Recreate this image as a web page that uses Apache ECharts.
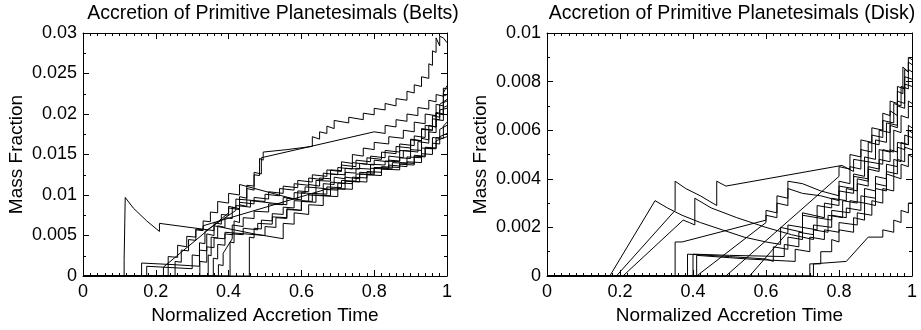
<!DOCTYPE html>
<html>
<head>
<meta charset="utf-8">
<script src="https://cdn.jsdelivr.net/npm/echarts@6/dist/echarts.min.js"></script>
<style>
  html, body { margin: 0; padding: 0; background: #fff; }
  #chart { width: 921px; height: 330px; }
</style>
</head>
<body>
<div id="chart"></div>
<script>
// x ticks / y ticks for both panels
const xTicks = [0, 0.2, 0.4, 0.6, 0.8, 1];
const beltsYTicks = [0, 0.005, 0.01, 0.015, 0.02, 0.025, 0.03];
const diskYTicks = [0, 0.002, 0.004, 0.006, 0.008, 0.01];

// Belts runs: flat lists of (time, mass fraction) pairs
const belts1 = [0,0, 0.113,0, 0.113,0.002, 0.116,0.002, 0.116,0.0097, 0.138,0.0084, 0.175,0.0068, 0.21,0.0055, 0.21,0.0065, 0.36,0.0056, 0.36,0.0062, 0.47,0.0052, 0.55,0.0046, 0.55,0.0065, 0.58,0.0064, 0.58,0.0078, 0.62,0.0076, 0.62,0.0088, 0.66,0.0087, 0.66,0.0099, 0.7,0.0098, 0.7,0.0108, 0.74,0.0107, 0.74,0.0117, 0.78,0.0116, 0.78,0.0125, 0.82,0.0124, 0.82,0.0132, 0.87,0.0131, 0.87,0.0138, 0.91,0.0137, 0.91,0.0148, 0.94,0.0147, 0.94,0.0158, 0.97,0.0157, 0.97,0.0167, 1,0.0172];
const belts2 = [0,0, 0.344,0, 0.344,0.0026, 0.352,0.0025, 0.352,0.0048, 0.37,0.0047, 0.37,0.0062, 0.39,0.006, 0.39,0.0072, 0.41,0.0071, 0.41,0.0085, 0.43,0.0083, 0.43,0.0098, 0.45,0.0096, 0.45,0.0112, 0.47,0.0111, 0.47,0.0125, 0.485,0.0124, 0.485,0.0145, 0.495,0.0143, 0.495,0.0153, 0.56,0.0156, 0.63,0.016, 0.63,0.0172, 0.65,0.0169, 0.65,0.0178, 0.67,0.0176, 0.67,0.0185, 0.69,0.0182, 0.69,0.0192, 0.73,0.0189, 0.73,0.0196, 0.77,0.0193, 0.77,0.0201, 0.8,0.0199, 0.8,0.0207, 0.83,0.0205, 0.83,0.0213, 0.86,0.021, 0.86,0.0219, 0.89,0.0217, 0.89,0.0228, 0.91,0.0226, 0.91,0.0236, 0.93,0.0234, 0.93,0.0246, 0.95,0.0244, 0.95,0.0262, 0.96,0.026, 0.96,0.0278, 0.97,0.0276, 0.97,0.0294, 0.98,0.0284, 0.98,0.0296, 0.99,0.0294, 1,0.0288];
const belts3 = [0,0, 0.404,0, 0.404,0.0042, 0.415,0.0041, 0.415,0.0068, 0.43,0.0066, 0.43,0.0088, 0.45,0.0086, 0.45,0.0108, 0.47,0.0106, 0.47,0.0128, 0.49,0.0126, 0.49,0.0146, 0.8,0.0178, 0.83,0.0176, 0.83,0.0186, 0.86,0.0184, 0.86,0.0193, 0.89,0.0191, 0.89,0.02, 0.92,0.0198, 0.92,0.0208, 0.95,0.0206, 0.95,0.0217, 0.97,0.0215, 0.97,0.0224, 0.99,0.0222, 0.99,0.0232, 1,0.0231];
const belts4 = [0,0, 0.161,0, 0.161,0.0016, 0.25,0.0014, 0.32,0.0012, 0.32,0.0032, 0.34,0.0031, 0.34,0.0052, 0.36,0.005, 0.36,0.0066, 0.38,0.0064, 0.38,0.0076, 0.4,0.0075, 0.4,0.0086, 0.42,0.0084, 0.42,0.0095, 0.5,0.0092, 0.5,0.0101, 0.54,0.0099, 0.54,0.0108, 0.58,0.0106, 0.58,0.0114, 0.62,0.0112, 0.62,0.0121, 0.66,0.0119, 0.66,0.0127, 0.7,0.0125, 0.7,0.0134, 0.74,0.0132, 0.74,0.014, 0.78,0.0138, 0.78,0.0146, 0.82,0.0144, 0.82,0.0153, 0.86,0.0151, 0.86,0.016, 0.9,0.0158, 0.9,0.0169, 0.93,0.0167, 0.93,0.0182, 0.96,0.018, 0.96,0.0198, 0.98,0.0196, 0.98,0.0212, 1,0.0218];
const belts5 = [0,0, 0.175,0, 0.175,0.0012, 0.3,0.0009, 0.3,0.0026, 0.32,0.0025, 0.32,0.0041, 0.335,0.004, 0.335,0.0055, 0.42,0.0081, 0.42,0.0087, 0.46,0.0085, 0.46,0.0093, 0.52,0.009, 0.56,0.0088, 0.56,0.0096, 0.6,0.0094, 0.6,0.0103, 0.64,0.0101, 0.64,0.0109, 0.68,0.0107, 0.68,0.0116, 0.72,0.0114, 0.72,0.0122, 0.76,0.012, 0.76,0.0128, 0.8,0.0127, 0.8,0.0134, 0.85,0.0133, 0.85,0.014, 0.89,0.0139, 0.89,0.0147, 0.93,0.0146, 0.93,0.0158, 0.96,0.0157, 0.96,0.0171, 0.98,0.017, 0.98,0.0181, 1,0.0186];
const belts6 = [0,0, 0.221,0, 0.221,0.0011, 0.4,0.0078, 0.4,0.0084, 0.43,0.0082, 0.43,0.0091, 0.47,0.0089, 0.47,0.0097, 0.51,0.0095, 0.51,0.0104, 0.55,0.0102, 0.55,0.0111, 0.59,0.0109, 0.59,0.0118, 0.63,0.0116, 0.63,0.0125, 0.67,0.0123, 0.67,0.0131, 0.71,0.0129, 0.71,0.0137, 0.75,0.0135, 0.75,0.0143, 0.79,0.0141, 0.79,0.0148, 0.83,0.0146, 0.83,0.0155, 0.87,0.0153, 0.87,0.0163, 0.91,0.0161, 0.91,0.0173, 0.94,0.0171, 0.94,0.0186, 0.97,0.0184, 0.97,0.0201, 0.99,0.0199, 0.99,0.0214, 1,0.0216];
const belts7 = [0,0, 0.234,0, 0.234,0.0024, 0.26,0.0023, 0.26,0.0038, 0.285,0.0036, 0.285,0.0049, 0.31,0.0048, 0.31,0.0057, 0.33,0.0056, 0.33,0.0062, 0.66,0.0106, 0.66,0.0114, 0.69,0.0113, 0.69,0.0122, 0.72,0.012, 0.72,0.0128, 0.75,0.0127, 0.75,0.0133, 0.79,0.0132, 0.79,0.0138, 0.83,0.0137, 0.83,0.0142, 0.87,0.0141, 0.87,0.0146, 0.9,0.0145, 0.9,0.0156, 0.93,0.0155, 0.93,0.017, 0.95,0.0168, 0.95,0.0186, 0.97,0.0184, 0.97,0.0202, 0.99,0.02, 0.99,0.0226, 1,0.0235];
const belts8 = [0,0, 0.253,0, 0.253,0.0018, 0.27,0.0017, 0.27,0.0032, 0.29,0.0031, 0.29,0.0045, 0.31,0.0044, 0.31,0.0058, 0.33,0.0057, 0.33,0.0068, 0.35,0.0067, 0.35,0.0079, 0.37,0.0078, 0.37,0.0092, 0.4,0.009, 0.4,0.0102, 0.43,0.01, 0.43,0.0113, 0.58,0.0095, 0.58,0.0103, 0.61,0.0102, 0.61,0.011, 0.64,0.0109, 0.64,0.0118, 0.68,0.0117, 0.68,0.0126, 0.72,0.0125, 0.72,0.0133, 0.76,0.0132, 0.76,0.0139, 0.8,0.0137, 0.8,0.0143, 0.84,0.0141, 0.84,0.0148, 0.88,0.0146, 0.88,0.0155, 0.92,0.0153, 0.92,0.0166, 0.95,0.0164, 0.95,0.0178, 0.97,0.0177, 0.97,0.0193, 0.99,0.0192, 0.99,0.0208, 1,0.021];
const belts9 = [0,0, 0.321,0, 0.321,0.0018, 0.34,0.0017, 0.34,0.0036, 0.36,0.0035, 0.36,0.0047, 0.39,0.0046, 0.39,0.0054, 0.5,0.005, 0.5,0.0061, 0.53,0.006, 0.53,0.0072, 0.56,0.0071, 0.56,0.0083, 0.6,0.0081, 0.6,0.0093, 0.63,0.0092, 0.63,0.0102, 0.67,0.0101, 0.67,0.011, 0.71,0.0109, 0.71,0.0118, 0.75,0.0117, 0.75,0.0126, 0.79,0.0125, 0.79,0.0133, 0.84,0.0132, 0.84,0.0137, 0.89,0.0135, 0.89,0.0141, 0.93,0.014, 0.93,0.0151, 0.96,0.015, 0.96,0.0164, 0.98,0.0163, 0.98,0.0172, 1,0.0176];
const belts10 = [0,0, 0.358,0, 0.358,0.0022, 0.37,0.0021, 0.37,0.0039, 0.39,0.0038, 0.39,0.0052, 0.41,0.0051, 0.41,0.0063, 0.44,0.0061, 0.44,0.0072, 0.47,0.0071, 0.47,0.008, 0.51,0.0079, 0.51,0.0089, 0.55,0.0088, 0.55,0.0097, 0.59,0.0095, 0.59,0.0105, 0.62,0.0104, 0.62,0.0113, 0.65,0.0111, 0.65,0.0121, 0.68,0.012, 0.68,0.0131, 0.71,0.013, 0.71,0.0141, 0.74,0.0139, 0.74,0.015, 0.77,0.0148, 0.77,0.0158, 0.8,0.0156, 0.8,0.0165, 0.84,0.0163, 0.84,0.0172, 0.88,0.017, 0.88,0.018, 0.91,0.0178, 0.91,0.019, 0.94,0.0188, 0.94,0.02, 0.97,0.0198, 0.97,0.0212, 0.99,0.021, 0.99,0.0222, 1,0.0224];
const belts11 = [0,0, 0.372,0, 0.372,0.0014, 0.385,0.0013, 0.385,0.0028, 0.41,0.0046, 0.41,0.0052, 0.44,0.0051, 0.44,0.0059, 0.48,0.0057, 0.48,0.0065, 0.52,0.0064, 0.52,0.0073, 0.56,0.0072, 0.56,0.0082, 0.6,0.0081, 0.6,0.0092, 0.64,0.0091, 0.64,0.01, 0.68,0.0099, 0.68,0.0108, 0.72,0.0107, 0.72,0.0117, 0.76,0.0116, 0.76,0.0126, 0.8,0.0125, 0.8,0.0134, 0.84,0.0133, 0.84,0.0143, 0.87,0.0142, 0.87,0.0155, 0.9,0.0154, 0.9,0.0168, 0.93,0.0167, 0.93,0.0181, 0.96,0.018, 0.96,0.0194, 0.98,0.0193, 0.98,0.0205, 1,0.0207];
const belts12 = [0,0, 0.457,0, 0.457,0.0048, 0.47,0.0047, 0.47,0.0059, 0.49,0.0058, 0.49,0.0069, 0.52,0.0068, 0.52,0.0077, 0.55,0.0076, 0.55,0.0085, 0.58,0.0084, 0.58,0.0093, 0.62,0.0092, 0.62,0.01, 0.66,0.0099, 0.66,0.0107, 0.7,0.0106, 0.7,0.0115, 0.74,0.0114, 0.74,0.0122, 0.78,0.0121, 0.78,0.0129, 0.82,0.0128, 0.82,0.0135, 0.87,0.0134, 0.87,0.014, 0.91,0.0139, 0.91,0.0149, 0.94,0.0148, 0.94,0.0159, 0.97,0.0158, 0.97,0.0171, 0.99,0.017, 0.99,0.0185, 1,0.019];

// Disk runs
const disk1 = [0,0, 0.172,0, 0.296,0.0031, 0.33,0.0028, 0.37,0.0025, 0.42,0.0022, 0.48,0.0019, 0.54,0.0016, 0.6,0.0014, 0.64,0.0013, 0.64,0.002, 0.7,0.0018, 0.7,0.0026, 0.76,0.0024, 0.76,0.003, 0.8,0.0029, 0.8,0.0035, 0.84,0.0034, 0.84,0.0041, 0.88,0.004, 0.88,0.0047, 0.92,0.0046, 0.92,0.0052, 0.95,0.0051, 0.95,0.006, 0.97,0.0059, 0.97,0.0066, 0.99,0.0065, 0.99,0.0072, 1,0.0071];
const disk2 = [0,0, 0.19,0, 0.351,0.0027, 0.351,0.0039, 0.38,0.0036, 0.42,0.0033, 0.465,0.0029, 0.465,0.0039, 0.49,0.0037, 0.808,0.00455, 0.84,0.0043, 0.84,0.0048, 0.88,0.0047, 0.88,0.0055, 0.91,0.0054, 0.91,0.006, 0.94,0.0059, 0.94,0.0068, 0.96,0.0066, 0.96,0.0076, 0.975,0.0075, 0.975,0.0086, 0.99,0.0084, 0.99,0.0088, 1,0.0087];
const disk3 = [0,0, 0.208,0, 0.373,0.0023, 0.39,0.0022, 0.405,0.0021, 0.405,0.0032, 0.45,0.0028, 0.52,0.0024, 0.6,0.002, 0.67,0.0017, 0.73,0.0015, 0.73,0.0019, 0.77,0.0018, 0.77,0.0025, 0.81,0.0024, 0.81,0.0031, 0.85,0.003, 0.85,0.0038, 0.88,0.0037, 0.88,0.0045, 0.91,0.0044, 0.91,0.0052, 0.94,0.0051, 0.94,0.0062, 0.96,0.0061, 0.96,0.007, 0.98,0.0069, 0.98,0.0079, 1,0.0078];
const disk4 = [0,0, 0.351,0, 0.351,0.0014, 0.37,0.0014, 0.6,0.0023, 0.6,0.0025, 0.63,0.0024, 0.63,0.003, 0.66,0.0029, 0.66,0.0036, 0.7,0.0034, 0.75,0.0033, 0.8,0.0031, 0.8,0.0037, 0.84,0.0036, 0.84,0.0042, 0.87,0.0041, 0.87,0.0049, 0.9,0.0048, 0.9,0.0056, 0.93,0.0055, 0.93,0.0063, 0.96,0.0062, 0.96,0.0072, 0.98,0.0071, 0.98,0.0082, 1,0.0081];
const disk5 = [0,0, 0.385,0, 0.385,0.0009, 0.5,0.0008, 0.6,0.0007, 0.62,0.0006, 0.62,0.0012, 0.66,0.0011, 0.66,0.0016, 0.7,0.0015, 0.7,0.002, 0.74,0.0019, 0.74,0.0024, 0.78,0.0023, 0.78,0.0027, 0.83,0.0026, 0.83,0.0031, 0.87,0.003, 0.87,0.0036, 0.9,0.0035, 0.9,0.0041, 0.93,0.004, 0.93,0.0046, 0.96,0.0045, 0.96,0.0053, 0.98,0.0052, 0.98,0.0058, 1,0.0057];
const disk6 = [0,0, 0.4,0, 0.4,0.0009, 0.5,0.00085, 0.65,0.0008, 0.65,0.0013, 0.69,0.0012, 0.69,0.0018, 0.73,0.0017, 0.73,0.0021, 0.78,0.002, 0.78,0.0025, 0.82,0.0024, 0.82,0.0028, 0.86,0.0027, 0.86,0.0033, 0.9,0.0032, 0.9,0.0038, 0.93,0.0037, 0.93,0.0043, 0.96,0.0042, 0.96,0.0048, 0.98,0.0047, 0.98,0.0053, 1,0.0052];
const disk7 = [0,0, 0.41,0, 0.41,0.00085, 0.55,0.0007, 0.68,0.0006, 0.68,0.0011, 0.72,0.001, 0.72,0.0016, 0.76,0.0015, 0.76,0.0019, 0.8,0.0018, 0.8,0.0022, 0.85,0.0021, 0.85,0.0026, 0.89,0.0025, 0.89,0.0031, 0.92,0.003, 0.92,0.0036, 0.95,0.0035, 0.95,0.0041, 0.97,0.004, 0.97,0.0046, 0.99,0.0045, 0.99,0.005, 1,0.0049];
const disk8 = [0,0, 0.41,0, 0.6,0.0022, 0.6,0.0027, 0.63,0.0026, 0.63,0.0033, 0.66,0.0032, 0.66,0.0039, 0.7,0.0038, 0.75,0.0035, 0.8,0.0033, 0.8,0.0039, 0.83,0.0038, 0.83,0.0045, 0.86,0.0044, 0.86,0.0052, 0.89,0.0051, 0.89,0.0058, 0.92,0.0057, 0.92,0.0064, 0.95,0.0063, 0.95,0.0071, 0.97,0.007, 0.97,0.0078, 0.99,0.0077, 0.99,0.0085, 1,0.0084];
const disk9 = [0,0, 0.49,0, 0.8,0.0041, 0.8,0.0045, 0.83,0.0044, 0.83,0.005, 0.86,0.0049, 0.86,0.0056, 0.89,0.0055, 0.89,0.0061, 0.92,0.006, 0.92,0.0067, 0.94,0.0066, 0.94,0.0072, 0.96,0.0071, 0.96,0.0078, 0.98,0.0077, 0.98,0.0085, 0.99,0.0084, 0.99,0.009, 1,0.0089];
const disk10 = [0,0, 0.555,0, 0.66,0.0018, 0.66,0.0021, 0.7,0.002, 0.7,0.0025, 0.74,0.0024, 0.74,0.0029, 0.78,0.0028, 0.78,0.0032, 0.82,0.0031, 0.82,0.0036, 0.85,0.0035, 0.85,0.004, 0.88,0.0039, 0.88,0.0044, 0.91,0.0043, 0.91,0.0048, 0.94,0.0047, 0.94,0.0052, 0.96,0.0051, 0.96,0.0055, 0.99,0.0054, 0.99,0.006, 1,0.0059];
const disk11 = [0,0, 0.72,0, 0.72,0.0005, 0.75,0.0005, 0.75,0.001, 0.78,0.001, 0.78,0.0015, 0.8,0.0014, 0.8,0.0019, 0.84,0.0018, 0.84,0.0024, 0.87,0.0023, 0.87,0.003, 0.9,0.0029, 0.9,0.0036, 0.93,0.0035, 0.93,0.0042, 0.95,0.0041, 0.95,0.0048, 0.97,0.0047, 0.97,0.0055, 0.99,0.0054, 0.99,0.0062, 1,0.0061];
const disk12 = [0,0, 0.73,0, 0.73,0.0005, 0.82,0.0006, 0.88,0.0016, 0.92,0.0016, 0.92,0.0019, 0.95,0.0018, 0.95,0.0023, 0.97,0.0022, 0.97,0.0027, 0.99,0.0026, 0.99,0.003, 1,0.003];

const beltsRuns = [belts1, belts2, belts3, belts4, belts5, belts6, belts7, belts8, belts9, belts10, belts11, belts12];
const diskRuns = [disk1, disk2, disk3, disk4, disk5, disk6, disk7, disk8, disk9, disk10, disk11, disk12];

const FONT = '"Liberation Sans", Arial, Helvetica, sans-serif';

function pairs(flat) {
  const out = [];
  for (let i = 0; i < flat.length; i += 2) out.push([flat[i], flat[i + 1]]);
  return out;
}

function xAxisFor(grid, pos) {
  const bottom = pos === 'bottom';
  return {
    type: 'value', gridIndex: grid, position: pos, min: xTicks[0], max: xTicks[xTicks.length - 1], interval: xTicks[1],
    axisLine: { show: true, onZero: false, lineStyle: { color: '#000', width: 1 } },
    axisTick: { show: true, inside: true, length: 6, lineStyle: { color: '#000' } },
    minorTick: { show: true, splitNumber: 10, length: 3, lineStyle: { color: '#000' } },
    axisLabel: { show: bottom, color: '#000', fontSize: 18, fontFamily: FONT, margin: 7 },
    splitLine: { show: false },
    name: bottom ? 'Normalized Accretion Time' : '',
    nameLocation: 'middle', nameGap: 30,
    nameTextStyle: { color: '#000', fontSize: 19, fontFamily: FONT }
  };
}

function yAxisFor(grid, pos, ticks) {
  const left = pos === 'left';
  return {
    type: 'value', gridIndex: grid, position: pos, min: 0, max: ticks[ticks.length - 1], interval: ticks[1],
    axisLine: { show: true, onZero: false, lineStyle: { color: '#000', width: 1 } },
    axisTick: { show: true, inside: true, length: 6, lineStyle: { color: '#000' } },
    minorTick: { show: true, splitNumber: 2, length: 3, lineStyle: { color: '#000' } },
    axisLabel: { show: left, color: '#000', fontSize: 18, fontFamily: FONT, margin: 6 },
    splitLine: { show: false },
    name: left ? 'Mass Fraction' : '',
    nameLocation: 'middle', nameGap: 57,
    nameTextStyle: { color: '#000', fontSize: 19, fontFamily: FONT }
  };
}

const series = [];
beltsRuns.forEach(run => series.push({
  type: 'line', xAxisIndex: 0, yAxisIndex: 0, data: pairs(run),
  showSymbol: false, silent: true, lineStyle: { color: '#000', width: 1 }
}));
diskRuns.forEach(run => series.push({
  type: 'line', xAxisIndex: 2, yAxisIndex: 2, data: pairs(run),
  showSymbol: false, silent: true, lineStyle: { color: '#000', width: 1 }
}));

const chart = echarts.init(document.getElementById('chart'));
chart.setOption({
  animation: false,
  backgroundColor: '#fff',
  grid: [
    { left: 83, top: 33, width: 364, height: 246 },
    { left: 547, top: 33, width: 365, height: 246 }
  ],
  graphic: [
    { type: 'text', x: 273, y: 14, style: { text: 'Accretion of Primitive Planetesimals (Belts)', fill: '#000', font: '19.5px ' + FONT, textAlign: 'center', textVerticalAlign: 'middle' } },
    { type: 'text', x: 732, y: 14, style: { text: 'Accretion of Primitive Planetesimals (Disk)', fill: '#000', font: '19.5px ' + FONT, textAlign: 'center', textVerticalAlign: 'middle' } }
  ],
  xAxis: [xAxisFor(0, 'bottom'), xAxisFor(0, 'top'), xAxisFor(1, 'bottom'), xAxisFor(1, 'top')],
  yAxis: [
    yAxisFor(0, 'left', beltsYTicks),
    yAxisFor(0, 'right', beltsYTicks),
    yAxisFor(1, 'left', diskYTicks),
    yAxisFor(1, 'right', diskYTicks)
  ],
  series: series
});
</script>
</body>
</html>
